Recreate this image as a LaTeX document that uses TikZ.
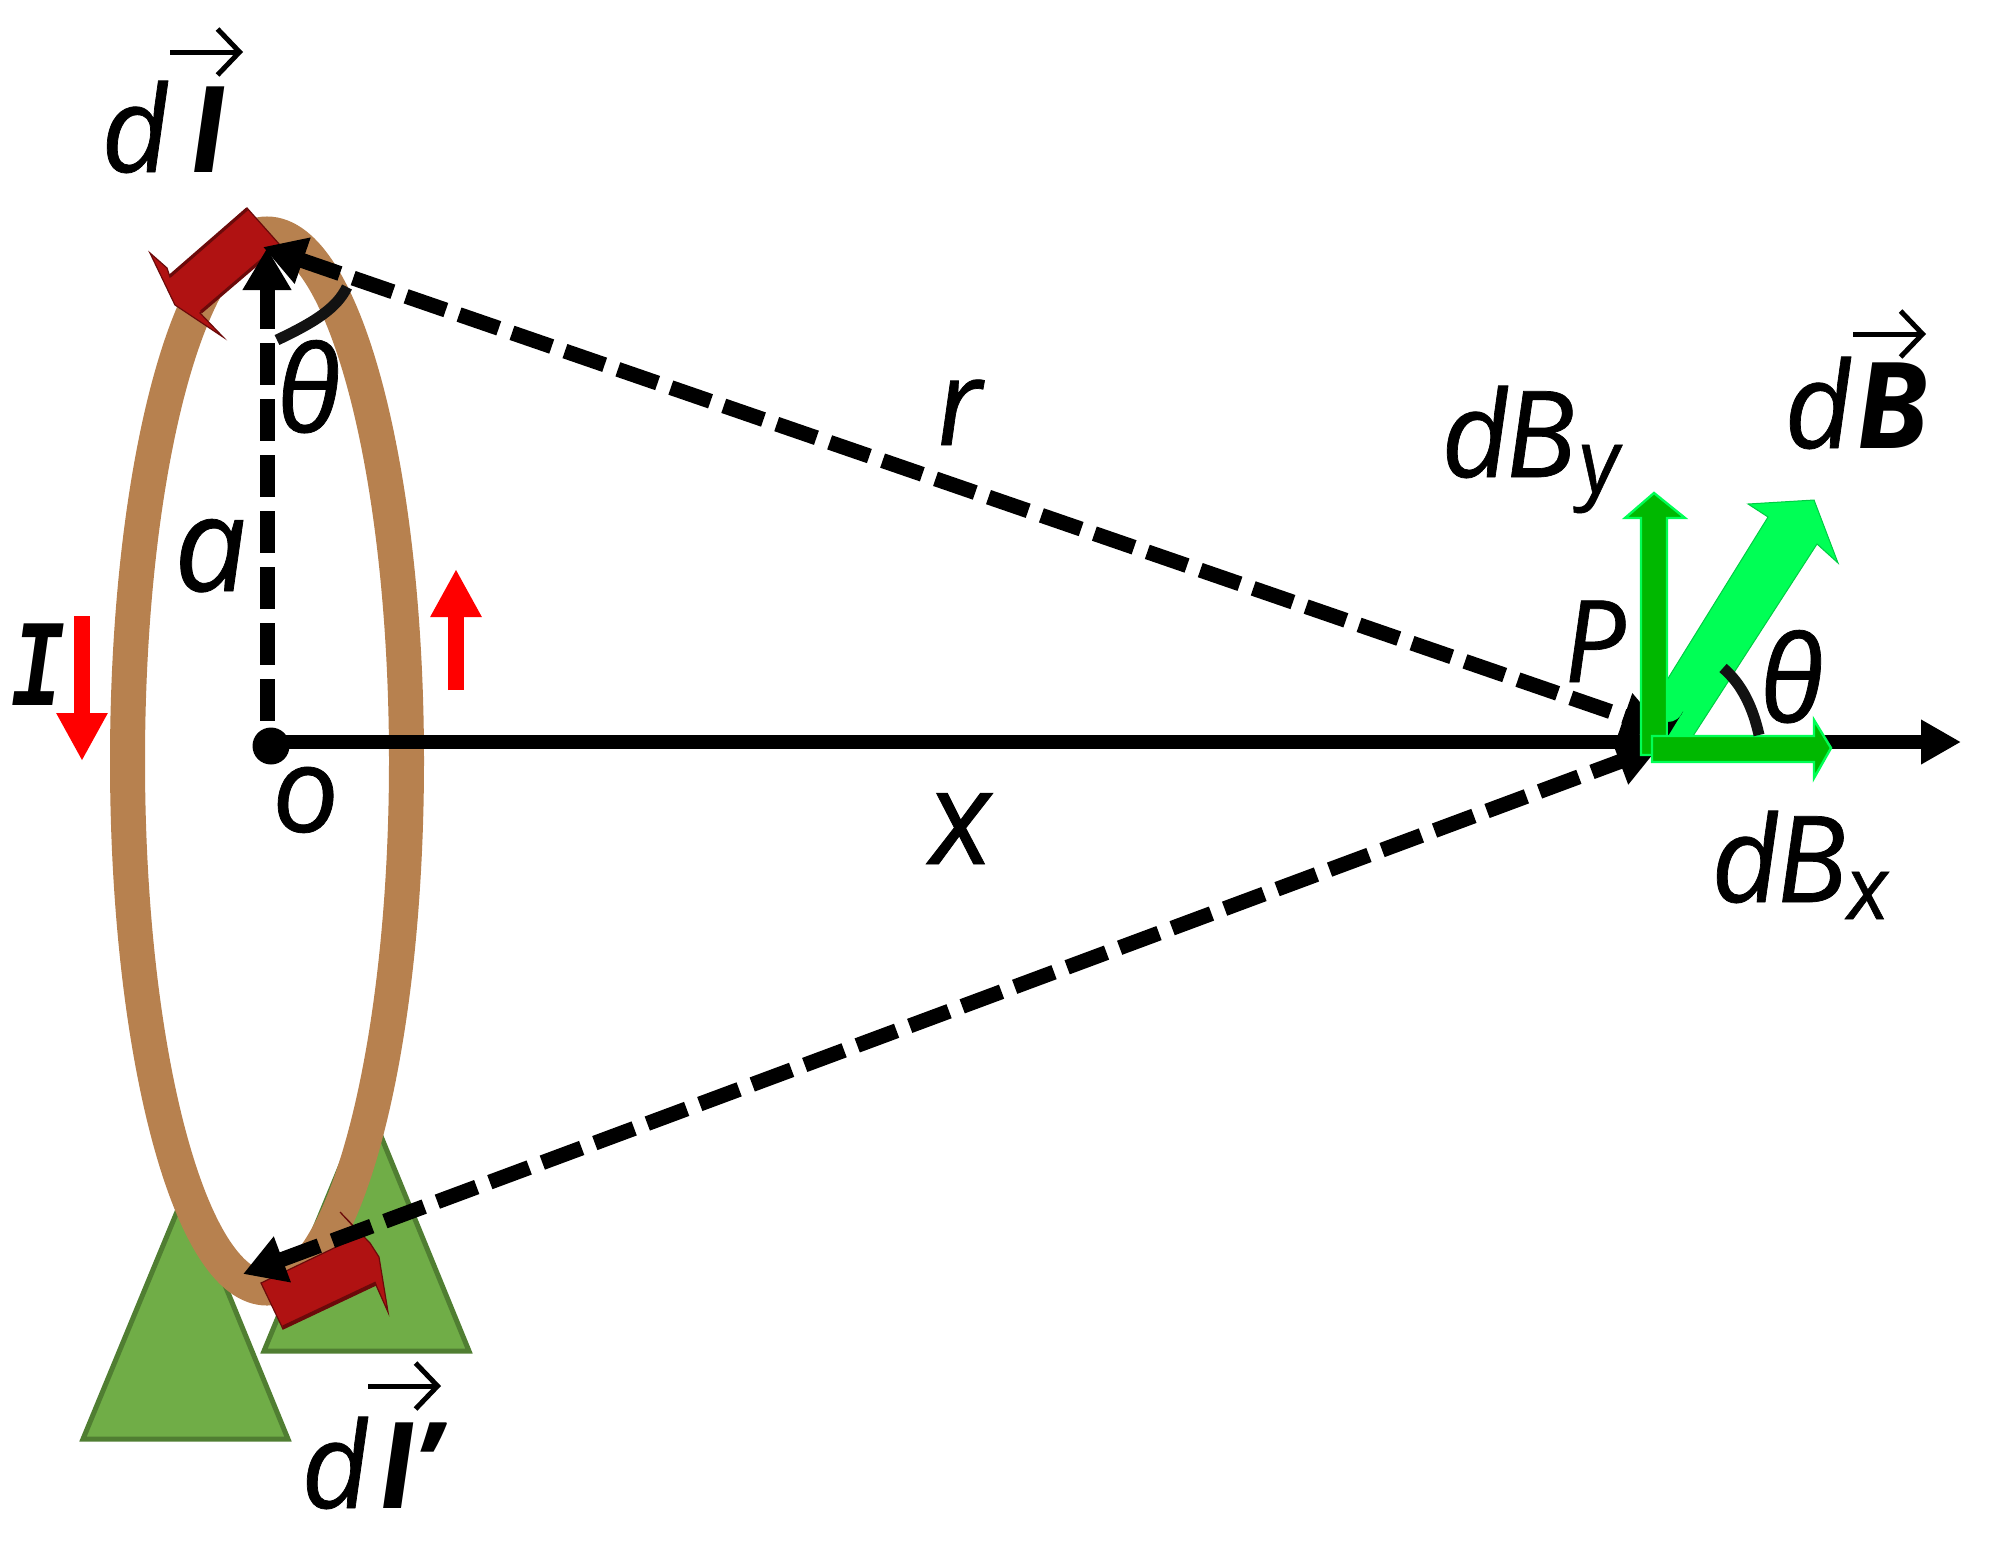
\documentclass[tikz,border=0pt]{standalone}
\usepackage{fontspec}
\setmainfont{Open Sans}[ItalicFeatures={FakeSlant=-0.07,FakeBold=0.6},BoldItalicFeatures={FakeSlant=-0.07}]
\newfontfamily\slabit{Liberation Mono}
\usetikzlibrary{arrows.meta}
\definecolor{ringc}{HTML}{B7814F}
\definecolor{triF}{HTML}{70AD47}
\definecolor{triD}{HTML}{507E32}
\definecolor{redF}{HTML}{B01212}
\definecolor{redD}{HTML}{6B0A0A}
\definecolor{brG}{HTML}{00FF55}
\definecolor{dkG}{HTML}{00B800}
\tikzset{
  lab/.style={anchor=base west,inner sep=0pt,outer sep=0pt,font=\fontsize{60}{60}\selectfont\itshape},
  labbig/.style={lab,font=\fontsize{66}{66}\selectfont\itshape},
  labsub/.style={lab,font=\fontsize{44}{44}\selectfont\itshape},
  labbold/.style={lab,font=\fontsize{60}{60}\selectfont\bfseries\itshape},
  vecbar/.style={line width=2.5pt,-{Straight Barb[length=11pt,width=23pt,line width=2.5pt]}},
  dashstart/.style={line width=7.5pt,dash pattern=on 21pt off 7pt,{Triangle[length=21pt,width=23pt]}-},
  dashboth/.style={line width=7.5pt,dash pattern=on 21pt off 7pt,{Triangle[length=21pt,width=23pt]}-{Triangle[length=21pt,width=23pt]}},
  tri/.style={fill=triF,draw=triD,line width=2.5pt,line join=miter},
  redarrow/.style={fill=redF,draw=redD,line width=.6pt,line join=miter},
  ired/.style={line width=8pt,red,-{Triangle[length=24pt,width=24pt]}},
  anglearc/.style={line width=5.5pt,color=black!93},
  axisline/.style={line width=7pt,-{Triangle[length=20pt,width=21pt]}},
}
\begin{document}
\begin{tikzpicture}[x=0.5pt,y=-0.5pt]
\useasboundingbox (0,0) rectangle (2006,1542);
% named points
\coordinate (ctr) at (267,761);
\coordinate (Otail) at (267,745);
\coordinate (topv) at (267,248);
\coordinate (topr) at (263,247);
\coordinate (botr) at (243,1274);
\coordinate (P) at (1664,730);
\coordinate (Pb) at (1659,747);
\coordinate (axStart) at (271,742);
\coordinate (axEnd) at (1961,742);
% triangles
\draw[tri] (83,1439) -- (186,1190) -- (288,1439) -- cycle;
\draw[tri] (264,1351) -- (367,1102) -- (469,1351) -- cycle;
% ring
\draw[ringc,line width=17.5pt] (ctr) ellipse [x radius=139.5,y radius=527];
% red elements
\draw[redarrow] (247,208) -- (280,245) -- (200,313) -- (223,337) -- (175,305) -- (150,253) -- (167,268) -- (170,277) -- cycle;
\draw[redarrow] (261,1283) -- (283,1329) -- (376,1285) -- (388,1312) -- (379,1257) -- (370,1243) -- (340,1212) -- (352,1225) -- (357,1237) -- cycle;
\draw[redD,line width=1.6pt] (247,209) -- (170,276);
\draw[redD,line width=1.6pt] (277,247) -- (201,312);
\draw[redD,line width=1.6pt] (283,1327) -- (376,1283);
% current arrows
\coordinate (i1a) at (82,616);
\coordinate (i1b) at (82,761);
\coordinate (i2a) at (456,690);
\coordinate (i2b) at (456,569);
\draw[ired] (i1a) -- (i1b);
\draw[ired] (i2a) -- (i2b);
% axis
\node[circle,fill=black,minimum size=18.5pt,inner sep=0pt] (O) at (271,746) {};
\draw[axisline] (axStart) -- (axEnd);
% dashed
\draw[dashstart] (topv) -- (Otail);
\draw[dashboth] (topr) -- (P);
\draw[dashboth] (botr) -- (Pb);
% green arrows
\draw[fill=brG,draw=brG!80!black,line width=.5pt] (1667,680) -- (1768,517) -- (1748,504) -- (1814,500) -- (1838,563) -- (1817,544) -- (1693,736) -- (1667,736) -- cycle;
\draw[fill=dkG,draw=brG,line width=1.2pt] (1641,755) -- (1641,518) -- (1625,518) -- (1654,493) -- (1685,518) -- (1667,518) -- (1667,755) -- cycle;
\fill (1668,736) -- (1668,722) arc[start angle=90,end angle=20,radius=16] -- cycle;
\draw[fill=dkG,draw=brG,line width=1.2pt] (1652,736) -- (1814,736) -- (1814,720) -- (1831,748) -- (1814,778) -- (1814,762) -- (1652,762) -- cycle;
% angle arcs
\draw[anglearc] (277,340) .. controls (315,322) and (337,308) .. (347,287);
\draw[anglearc] (1723,668) .. controls (1742,684) and (1753,708) .. (1759,735);
% labels
\node[lab] (d1) at (103,172) {d};
\node[labbold] (l1) at (191,172) {I};
\coordinate (v1a) at (170,52); \coordinate (v1b) at (243,52);
\draw[vecbar] (v1a) -- (v1b);
\node[lab] (d2) at (303,1508) {d};
\node[labbold] (l2) at (380,1508) {I’};
\coordinate (v2a) at (368,1386); \coordinate (v2b) at (441,1386);
\draw[vecbar] (v2a) -- (v2b);
\node[lab] (d3) at (1786,448) {d};
\node[labbold] (B3) at (1857,448) {B};
\coordinate (v3a) at (1853,334); \coordinate (v3b) at (1926,334);
\draw[vecbar] (v3a) -- (v3b);
\node[lab] (dBy) at (1443,477) {d\kern-3pt B};
\node[labsub] (ysub) at (1581,492) {y};
\node[lab] (dBx) at (1713,902) {d\kern-2.5pt B};
\node[labsub] (xsub) at (1848,919) {x};
\node[labbig] (a) at (176,591) {a};
\node[lab] (r) at (938,445) {r};
\node[labbig] (x) at (931,864) {x};
\node[lab,font=\fontsize{57}{57}\selectfont\itshape] (Pl) at (1565,682) {P};
\node[lab] (o) at (274,832) {o};
\node[lab] (th1) at (279,432) {θ};
\node[lab] (th2) at (1762,722) {θ};
\node[anchor=base west,inner sep=0pt,font=\fontsize{62}{62}\selectfont\slabit\bfseries\itshape] (Il) at (10,705) {\scalebox{.72}[1]{I}};
\end{tikzpicture}
\end{document}
